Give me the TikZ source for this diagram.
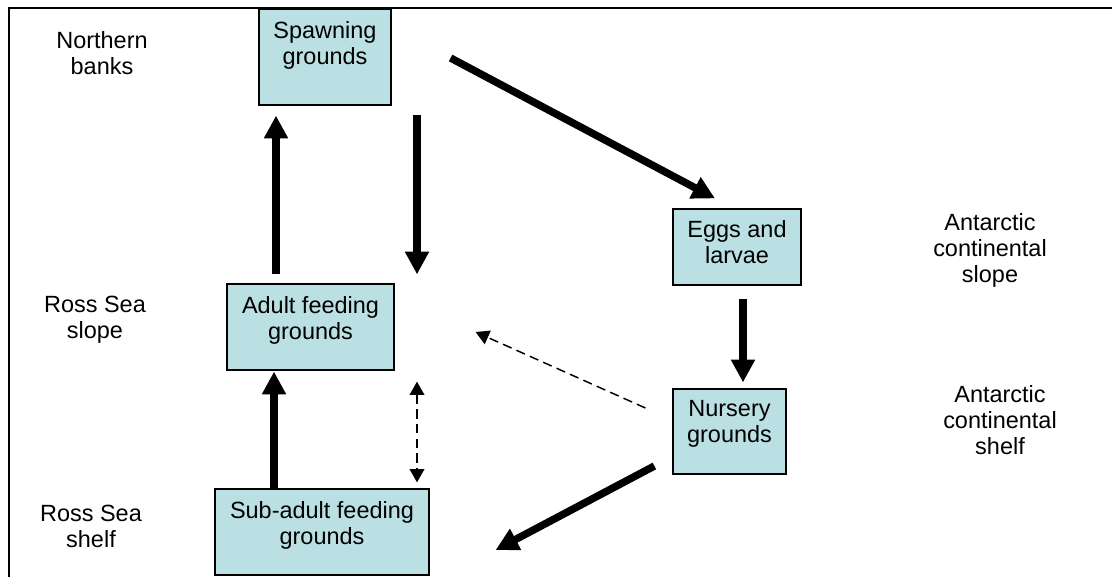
\documentclass[tikz,border=0pt]{standalone}
\usepackage{fontspec}
\setmainfont{Liberation Sans}
\usepackage{xcolor}
\usetikzlibrary{arrows.meta}
\definecolor{boxblue}{RGB}{187,224,227}

\begin{document}
\begin{tikzpicture}[
    x=0.75pt, y=-0.75pt,
    every node/.style={font=\fontsize{17.6pt}{19.5pt}\selectfont, inner sep=0pt},
    box/.style={
        rectangle, draw=black, line width=0.9pt, fill=boxblue
    },
    boxtext/.style={anchor=north, align=center},
    zone/.style={anchor=north, align=center},
    bigarrow/.style={-{Triangle[length=17pt,width=17pt]}, line width=5.6pt},
    dasharrow/.style={-{Triangle[length=10pt,width=11pt]}, line width=1.1pt,
        dash pattern=on 7pt off 4pt},
    dashboth/.style={{Triangle[length=10pt,width=11pt]}-{Triangle[length=10pt,width=11pt]},
        line width=1.1pt, dash pattern=on 7pt off 4pt}
]
\useasboundingbox (0,0) rectangle (1112,577);

% Frame
\draw[line width=1.5pt] (9,577) -- (9,8) -- (1112,8);

% Zones
\node[zone] (north) at (102,31) {Northern\\banks};
\node[zone] (rslope) at (95,296) {Ross Sea\\slope};
\node[zone] (rshelf) at (91,505) {Ross Sea\\shelf};
\node[zone] (aslope) at (990,213) {Antarctic\\continental\\slope};
\node[zone] (ashelf) at (1000,385) {Antarctic\\continental\\shelf};

% Left column
\node[box, minimum width=99pt, minimum height=72pt] (spawn) at (325,57) {};
\node[boxtext] (spawntxt) at ([shift={(0,13)}]spawn.north) {Spawning\\grounds};
\node[box, minimum width=125.25pt, minimum height=64.5pt] (adult) at (310.5,327) {};
\node[boxtext] (adulttxt) at ([shift={(0,13)}]adult.north) {Adult feeding\\grounds};
\node[box, minimum width=160.5pt, minimum height=64.5pt] (sub) at (322,532) {};
\node[boxtext] (subtxt) at ([shift={(0,13)}]sub.north) {Sub-adult feeding\\grounds};

% Right column
\node[box, minimum width=96pt, minimum height=57pt] (eggs) at (737,247) {};
\node[boxtext] (eggstxt) at ([shift={(0,12)}]eggs.north) {Eggs and\\larvae};
\node[box, minimum width=84.75pt, minimum height=63.75pt] (nursery) at (729.5,431.5) {};
\node[boxtext] (nurserytxt) at ([shift={(0,12)}]nursery.north) {Nursery\\grounds};

% Arrows
\draw[bigarrow] ([shift={(-34.5,-9)}]adult.north) -- ([shift={(-49,10)}]spawn.south);
\draw[bigarrow] ([shift={(92,9)}]spawn.south) -- ([shift={(106.5,-9)}]adult.north);
\draw[bigarrow] ([shift={(59,1)}]spawn.east) -- ([shift={(-22,-10)}]eggs.north);
\draw[bigarrow] ([shift={(6,13)}]eggs.south) -- ([shift={(13.5,-6)}]nursery.north);
\draw[bigarrow] ([shift={(-48,0)}]sub.north) -- ([shift={(-36.5,1)}]adult.south);
\draw[bigarrow] ([shift={(-18,34.5)}]nursery.west) -- ([shift={(66,18)}]sub.east);
\draw[dashboth] ([shift={(106.5,11)}]adult.south) -- ([shift={(95,-6)}]sub.north);
\draw[dasharrow] ([shift={(-27,-23.5)}]nursery.west) -- ([shift={(81,5)}]adult.east);

\end{tikzpicture}
\end{document}
